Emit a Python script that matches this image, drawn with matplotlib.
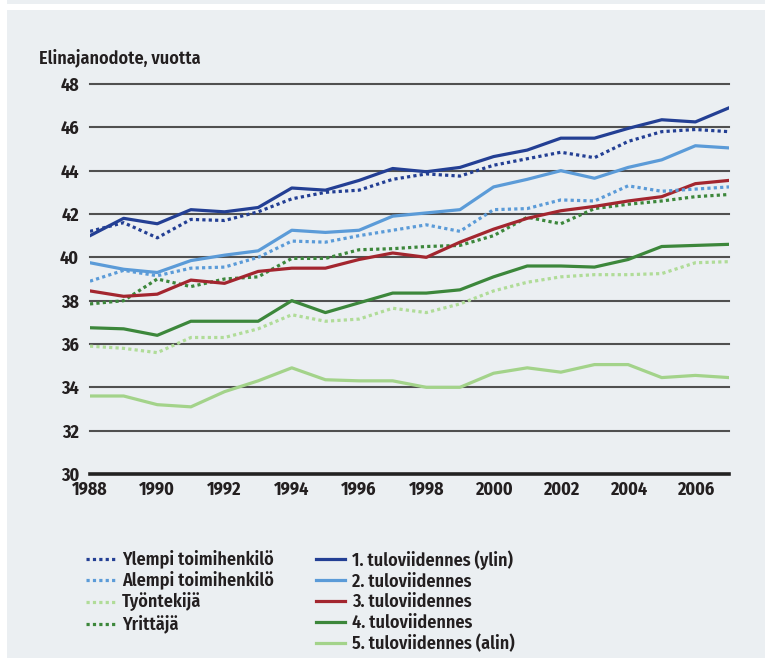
import numpy as np
import matplotlib
matplotlib.use('Agg')
import matplotlib.pyplot as plt
from matplotlib.lines import Line2D
from matplotlib.patches import Rectangle

plt.rcParams['font.family'] = ['Fira Sans Condensed', 'DejaVu Sans']
plt.rcParams['font.stretch'] = 'condensed'
plt.rcParams['font.weight'] = 600

# Years
years = np.arange(1988, 2008)

# Life expectancy (years)
ylempi = [41.2, 41.6, 40.9, 41.75, 41.7, 42.1, 42.7, 43.0, 43.1, 43.6,
          43.85, 43.75, 44.25, 44.55, 44.85, 44.6, 45.35, 45.8, 45.9, 45.8]
alempi = [38.9, 39.4, 39.15, 39.5, 39.55, 40.0, 40.75, 40.7, 41.0, 41.25,
          41.5, 41.2, 42.2, 42.25, 42.65, 42.6, 43.3, 43.05, 43.15, 43.25]
tyontekija = [35.9, 35.8, 35.6, 36.3, 36.3, 36.7, 37.35, 37.05, 37.15, 37.65,
              37.45, 37.85, 38.45, 38.85, 39.1, 39.2, 39.2, 39.25, 39.75, 39.8]
yrittaja = [37.85, 38.0, 39.0, 38.65, 39.0, 39.1, 39.95, 39.95, 40.35, 40.4,
            40.5, 40.55, 41.0, 41.85, 41.55, 42.25, 42.45, 42.6, 42.8, 42.9]
q1 = [41.0, 41.8, 41.55, 42.2, 42.1, 42.3, 43.2, 43.1, 43.55, 44.1,
      43.95, 44.15, 44.65, 44.95, 45.5, 45.5, 45.95, 46.35, 46.25, 46.9]
q2 = [39.75, 39.45, 39.3, 39.85, 40.1, 40.3, 41.25, 41.15, 41.25, 41.9,
      42.05, 42.2, 43.25, 43.6, 44.0, 43.65, 44.15, 44.5, 45.15, 45.05]
q3 = [38.45, 38.2, 38.3, 38.95, 38.8, 39.35, 39.5, 39.5, 39.9, 40.2,
      40.0, 40.7, 41.3, 41.8, 42.15, 42.35, 42.6, 42.8, 43.4, 43.55]
q4 = [36.75, 36.7, 36.4, 37.05, 37.05, 37.05, 38.0, 37.45, 37.9, 38.35,
      38.35, 38.5, 39.1, 39.6, 39.6, 39.55, 39.9, 40.5, 40.55, 40.6]
q5 = [33.6, 33.6, 33.2, 33.1, 33.8, 34.3, 34.9, 34.35, 34.3, 34.3,
      34.0, 34.0, 34.65, 34.9, 34.7, 35.05, 35.05, 34.45, 34.55, 34.45]

dotted_labels = ['Ylempi toimihenkilö', 'Alempi toimihenkilö', 'Työntekijä', 'Yrittäjä']
solid_labels = ['1. tuloviidennes (ylin)', '2. tuloviidennes', '3. tuloviidennes',
                '4. tuloviidennes', '5. tuloviidennes (alin)']

dark_blue = '#233f94'
light_blue = '#5b9bd8'
red = '#a3262f'
dark_green = '#3c873b'
light_green = '#a3d38a'
light_green_dot = '#b0dc98'
bg = '#ebeff2'
text_col = '#231f20'

fig = plt.figure(figsize=(7.66, 6.58), dpi=100)
fig.patch.set_facecolor('white')
# grey panel with the white strip near the top
fig.patches.append(Rectangle((7/766, 0), 758/766, 648/658, transform=fig.transFigure,
                             facecolor=bg, edgecolor='none', zorder=-10))
fig.patches.append(Rectangle((7/766, 654/658), 758/766, 4/658, transform=fig.transFigure,
                             facecolor=bg, edgecolor='none', zorder=-10))

ax = fig.add_axes([90/766, 1 - 474/658, 639/766, 390/658])
ax.set_facecolor(bg)

lw = 2.3
dots = (0, (1, 1))
ax.plot(years, q5, color=light_green, lw=lw, zorder=3)
ax.plot(years, tyontekija, color=light_green_dot, lw=lw, ls=dots, zorder=3)
ax.plot(years, q4, color=dark_green, lw=lw, zorder=3)
ax.plot(years, yrittaja, color=dark_green, lw=lw, ls=dots, zorder=3)
ax.plot(years, q3, color=red, lw=lw, zorder=3)
ax.plot(years, alempi, color=light_blue, lw=lw, ls=dots, zorder=3)
ax.plot(years, q2, color=light_blue, lw=lw, zorder=3)
ax.plot(years, ylempi, color=dark_blue, lw=lw, ls=dots, zorder=3)
ax.plot(years, q1, color=dark_blue, lw=lw, zorder=3)

ax.set_xlim(1988, 2007)
ax.set_ylim(30, 48)
ax.set_yticks(np.arange(30, 49, 2))
ax.set_xticks(np.arange(1988, 2007, 2))
for y in np.arange(32, 49, 2):
    ax.axhline(y, color='#505050', lw=1.5, zorder=1, clip_on=False)
ax.axhline(30, color='#222222', lw=2.6, zorder=1, clip_on=False)

for s in ax.spines.values():
    s.set_visible(False)
ax.tick_params(axis='both', length=0, labelsize=13, colors=text_col)
ax.tick_params(axis='y', pad=8)
ax.tick_params(axis='x', pad=5)
for lab in ax.get_xticklabels() + ax.get_yticklabels():
    lab.set_fontweight('bold')

fig.text(39/766, 1 - 64/658, 'Elinajanodote, vuotta', fontsize=13,
         color=text_col, ha='left', va='baseline')

dot_handles = [Line2D([], [], color=c, lw=2.3, ls=dots)
               for c in [dark_blue, light_blue, light_green_dot, dark_green]]
solid_handles = [Line2D([], [], color=c, lw=2.3)
                 for c in [dark_blue, light_blue, red, dark_green, light_green]]

leg_kw = dict(frameon=False, fontsize=13, handlelength=1.6, handletextpad=0.4,
              labelspacing=0.16, borderpad=0, borderaxespad=0, labelcolor=text_col)
fig.legend(dot_handles, dotted_labels, loc='upper left',
           bbox_to_anchor=(86/766, 1 - 550/658), **leg_kw)
fig.legend(solid_handles, solid_labels, loc='upper left',
           bbox_to_anchor=(316/766, 1 - 550/658), **leg_kw)

fig.savefig('out.png', dpi=100, facecolor=fig.get_facecolor())
